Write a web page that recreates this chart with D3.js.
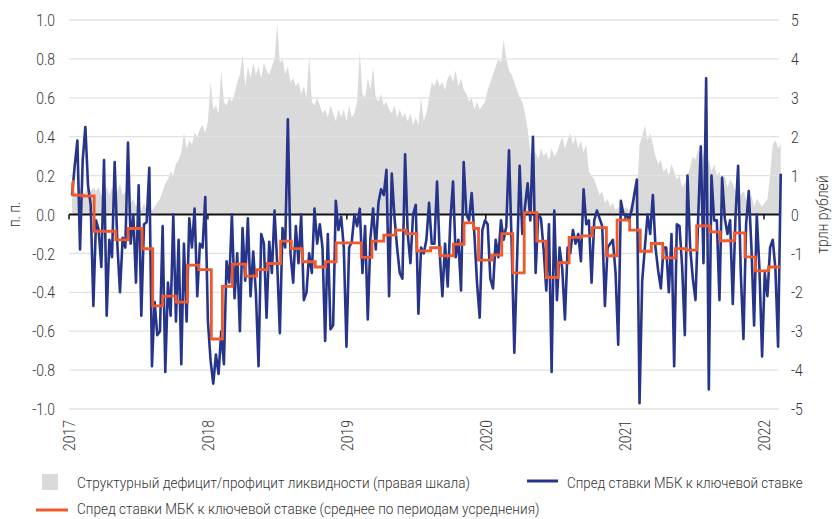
<!DOCTYPE html>
<html>
<head>
<meta charset="utf-8">
<script src="https://cdn.jsdelivr.net/npm/d3@7"></script>
<style>
  body { margin: 0; background: #fff; }
  svg text { font-family: Roboto, "Open Sans", sans-serif; font-weight: 300; fill: #333; }
  .tick-label { font-size: 17px; }
  .legend-text { font-size: 15.5px; }
  .legend-text.low { font-size: 15px; }
</style>
</head>
<body>
<div id="chart"></div>
<script>
/* ============================================================
   Спред ставки МБК к ключевой ставке и структурная ликвидность
   ============================================================ */

// weekly observations, first week starts 2017-01-09
const firstWeek = '2017-01-09';

// spread of interbank rate to key rate, p.p. (weekly reading)
const spread = [
   0.10,  0.25,  0.38, -0.18,  0.28,  0.45,  0.15,  0.05, -0.47, -0.03,
  -0.08, -0.27,  0.28, -0.52, -0.13, -0.22,  0.27, -0.15, -0.40, -0.12,
  -0.17,  0.37, -0.15,  0.00, -0.35,  0.15, -0.52, -0.05, -0.04,  0.24,
  -0.78, -0.45, -0.62, -0.60, -0.06, -0.81, -0.35, -0.52,  0.00, -0.55,
  -0.13, -0.77, -0.15, -0.55, -0.02, -0.17,  0.03, -0.42, -0.15, -0.17,
   0.09, -0.55, -0.75, -0.87, -0.72, -0.82, -0.60, -0.77, -0.24, -0.35,
   0.00, -0.43, -0.20, -0.60, -0.07, -0.34, -0.02, -0.42, -0.19, -0.40,
  -0.78, -0.10, -0.15, -0.53, -0.14, -0.30,  0.02, -0.25, -0.61, -0.07,
  -0.17,  0.49, -0.20, -0.35, -0.06, -0.25,  0.00, -0.44, -0.40, -0.20,
  -0.30,  0.03, -0.15, -0.05, -0.17, -0.65, -0.10, -0.59, -0.57,  0.07,
  -0.08, -0.01, -0.17, -0.68, -0.17, -0.14,  0.00, -0.06,  0.03, -0.30,
  -0.06, -0.54, -0.12,  0.03, -0.18,  0.06,  0.13,  0.10,  0.23, -0.42,
   0.21, -0.01, -0.17, -0.30, -0.33,  0.31, -0.10, -0.25,  0.00,  0.05,
  -0.51, -0.17, -0.20, -0.13,  0.06, -0.15, -0.15,  0.17, -0.20, -0.42,
  -0.15, -0.37, -0.03,  0.17, -0.22, -0.13, -0.39,  0.27,  0.00, -0.03,
   0.11, -0.10, -0.35, -0.53, -0.08, -0.03, -0.05, -0.33, -0.38, -0.13,
  -0.22, -0.03, -0.13, -0.06,  0.33, -0.15, -0.71, -0.25,  0.25, -0.10,
   0.04,  0.16, -0.03,  0.40, -0.30,  0.00, -0.02, -0.18, -0.39, -0.05,
  -0.81,  0.02, -0.44, -0.17, -0.28, -0.54, -0.17, -0.20, -0.08, -0.15,
  -0.10, -0.24,  0.13, -0.05, -0.03, -0.35, -0.03,  0.02, -0.02, -0.06,
  -0.47, -0.17, -0.15, -0.13, -0.30, -0.67,  0.07,  0.00,  0.00, -0.03,
   0.02,  0.10,  0.18, -0.97, -0.34, -0.17,  0.00, -0.10,  0.10, -0.17,
  -0.29, -0.38, -0.17, -0.17, -0.40, -0.10, -0.78, -0.05, -0.06, -0.27,
  -0.62,  0.20, -0.17, -0.33, -0.44, -0.02,  0.35, -0.25,  0.70, -0.90,
   0.20, -0.03, -0.03, -0.44,  0.19, -0.02, -0.10, -0.03, -0.46, -0.02,
   0.25, -0.30, -0.64, -0.05,  0.12, -0.17, -0.57,  0.00, -0.28, -0.73,
  -0.30, -0.42, -0.17, -0.13, -0.28, -0.68,  0.21
];

// structural liquidity deficit(-)/surplus(+), trn rubles (same weeks)
const liquidity = [
  0.4, 0.6, 0.5, 0.7, 0.5, 0.6, 0.7, 0.6, 0.7, 0.6,
  0.7, 0.5, 0.6, 0.7, 0.5, 0.7, 0.5, 0.6, 0.8, 0.5,
  0.6, 0.4, 0.3, 0.4, 0.2, 0.3, 0.1, 0.3, 0.1, 0.2,
  0.1, 0.2, 0.3, 0.4, 0.6, 0.8, 0.9, 1.1, 1.0, 1.3,
  1.4, 1.6, 2.1, 1.7, 1.9, 1.8, 2.1, 2.0, 2.2, 2.3,
  2.1, 2.4, 3.4, 2.7, 2.8, 2.6, 3.7, 2.9, 2.8, 3.0,
  2.9, 3.1, 3.4, 3.6, 4.1, 3.3, 3.8, 3.5, 3.9, 3.6,
  3.8, 3.5, 3.9, 3.7, 3.6, 3.8, 4.0, 4.9, 3.9, 4.0,
  3.6, 3.8, 3.4, 3.5, 3.3, 3.4, 3.1, 3.3, 3.0, 4.1,
  2.9, 2.8, 3.0, 2.8, 2.6, 2.7, 2.5, 2.8, 2.6, 2.4,
  2.7, 2.5, 2.7, 2.4, 2.8, 2.5, 2.6, 2.9, 4.2, 3.1,
  3.0, 3.5, 3.2, 3.8, 3.0, 2.9, 3.1, 2.8, 2.9, 2.7,
  2.6, 2.8, 2.5, 2.7, 2.5, 2.6, 2.4, 2.6, 2.3, 2.5,
  2.3, 3.0, 2.4, 2.6, 3.0, 3.4, 3.3, 3.5, 3.3, 3.4,
  3.2, 3.5, 3.6, 3.4, 3.7, 3.3, 3.5, 3.2, 3.1, 2.9,
  3.0, 2.7, 2.9, 2.7, 2.8, 2.9, 3.2, 3.4, 3.6, 3.8,
  4.0, 3.9, 4.5, 4.0, 3.7, 3.6, 3.4, 3.2, 3.0, 2.9,
  2.6, 2.2, 1.6, 1.5, 1.6, 1.4, 1.7, 1.5, 1.6, 1.4,
  1.7, 1.5, 1.6, 1.8, 2.0, 1.7, 1.9, 2.1, 1.8, 2.0,
  1.7, 1.9, 1.6, 1.8, 1.1, 1.0, 0.9, 0.7, 0.5, 0.6,
  0.3, 0.4, 0.2, 0.3, 0.1, 0.2, 0.1, 0.1, 0.2, 0.1,
  0.3, 0.5, 0.4, 1.8, 2.0, 2.3, 1.9, 2.1, 1.8, 1.5,
  1.3, 1.4, 1.1, 1.2, 1.0, 1.3, 1.1, 0.9, 1.0, 0.7,
  0.8, 1.0, 1.2, 1.5, 1.4, 1.7, 1.3, 1.6, 1.2, 1.4,
  1.1, 1.3, 1.0, 1.1, 0.8, 1.0, 0.7, 0.9, 0.8, 0.6,
  0.7, 0.5, 0.6, 0.4, 0.3, 0.5, 0.2, 0.4, 0.3, 0.2,
  0.3, 0.4, 1.0, 1.8, 1.9, 1.7, 1.8
];

// averaging periods: start date and mean spread, p.p.
const periodStart = [
  '2017-01-09', '2017-01-11', '2017-02-06', '2017-03-08', '2017-05-04', '2017-06-05',
  '2017-07-12', '2017-08-09', '2017-09-04', '2017-10-09', '2017-11-08', '2017-12-08',
  '2018-01-10', '2018-02-08', '2018-03-06', '2018-04-10', '2018-05-09', '2018-06-06',
  '2018-07-11', '2018-08-08', '2018-09-06', '2018-10-10', '2018-11-06', '2018-12-04',
  '2019-02-08', '2019-03-08', '2019-04-08', '2019-05-08', '2019-06-06', '2019-07-04',
  '2019-08-09', '2019-09-04', '2019-10-08', '2019-11-05', '2019-11-30', '2019-12-13',
  '2020-01-17', '2020-02-12', '2020-03-12', '2020-04-11', '2020-05-14', '2020-06-08',
  '2020-07-09', '2020-08-07', '2020-09-08', '2020-10-07', '2020-11-13', '2020-12-11',
  '2021-01-13', '2021-02-10', '2021-03-11', '2021-04-10', '2021-05-13', '2021-06-10',
  '2021-07-08', '2021-08-12', '2021-09-08', '2021-10-15', '2021-11-12', '2021-12-09',
  '2022-01-13'
];
const periodMean = [
   0.17,  0.10,  0.095, -0.086, -0.13, -0.072,
  -0.176, -0.47, -0.42, -0.45, -0.26, -0.283,
  -0.64, -0.37, -0.255, -0.317, -0.283, -0.252,
  -0.137, -0.175, -0.243, -0.27, -0.243, -0.146,
  -0.22, -0.137, -0.106, -0.08, -0.098, -0.187,
  -0.171, -0.212, -0.153, -0.043, -0.072, -0.235,
  -0.209, -0.098, -0.30, 0.01, -0.137, -0.324,
  -0.248, -0.118, -0.11, -0.067, -0.212, -0.029,
  -0.08, -0.189, -0.149, -0.223, -0.175, -0.183,
  -0.058, -0.089, -0.135, -0.094, -0.218, -0.29,
  -0.27
];
const lastDay = '2022-02-12';

const leftTicks = [1.0, 0.8, 0.6, 0.4, 0.2, 0.0, -0.2, -0.4, -0.6, -0.8, -1.0];
const rightTicks = [5, 4, 3, 2, 1, 0, -1, -2, -3, -4, -5];
const yearTicks = ['2017', '2018', '2019', '2020', '2021', '2022'];

const COLORS = { spread: '#26358a', mean: '#ee5a2a', liquidity: '#dadada', grid: '#e2e2e2', axis: '#111' };

// text squeezed horizontally (the original uses a narrow face)
function label(parent, x, y, str, cls, anchor, opt = {}) {
    const g = parent.append('g').attr('transform', `translate(${x},${y})` + (opt.rotate ? ` rotate(${opt.rotate})` : ''));
    const t = g.append('text').attr('class', cls).attr('dy', '0.36em').attr('text-anchor', anchor).text(str);
    const w = t.node().getComputedTextLength();
    const s = opt.width ? opt.width / w : (opt.k || 0.82);
    t.attr('transform', `scale(${s},1)`);
    return t;
}

function drawChart() {
    const W = 832, H = 519;
    const parse = d3.timeParse('%Y-%m-%d');

    const svg = d3.select('#chart').append('svg').attr('width', W).attr('height', H);

    const x = d3.scaleTime().domain([new Date(2017, 0, 1), new Date(2022, 0, 1)]).range([69, 764]);
    const yL = d3.scaleLinear().domain([-1, 1]).range([409, 20]);
    const yR = d3.scaleLinear().domain([-5, 5]).range([409, 20]);
    const x0 = 69, x1 = 779;

    const start = parse(firstWeek);
    const weeks = spread.map((_, i) => d3.timeWeek.offset(start, i));

    // Liquidity area (right scale)
    const area = d3.area().x((d, i) => x(weeks[i])).y0(yR(0)).y1(d => yR(d));
    svg.append('path').datum(liquidity).attr('d', area).attr('fill', COLORS.liquidity);

    // Grid
    leftTicks.forEach(t => {
        if (t === 0) return;
        svg.append('line').attr('x1', x0).attr('x2', x1).attr('y1', yL(t)).attr('y2', yL(t))
            .attr('stroke', COLORS.grid).attr('stroke-width', 1.3);
    });

    // Axis labels
    leftTicks.forEach(t => label(svg, 55, yL(t), d3.format('.1f')(t).replace('−', '-'), 'tick-label', 'end'));
    rightTicks.forEach(t => label(svg, 791, yR(t), String(t), 'tick-label', 'start'));

    // Zero line and year ticks
    svg.append('line').attr('x1', x0).attr('x2', x1).attr('y1', yL(0)).attr('y2', yL(0))
        .attr('stroke', COLORS.axis).attr('stroke-width', 2);
    yearTicks.forEach(yr => {
        const xx = x(parse(yr + '-01-01'));
        svg.append('line').attr('x1', xx).attr('x2', xx).attr('y1', yL(0)).attr('y2', yL(0) + 5)
            .attr('stroke', COLORS.axis).attr('stroke-width', 1.5);
        label(svg, xx, 420, yr, 'tick-label', 'end', { rotate: -90 });
    });

    // Axis titles
    label(svg, 14, yL(0), 'п. п.', 'tick-label', 'middle', { rotate: -90 });
    label(svg, 822, yL(0), 'трлн рублей', 'tick-label', 'middle', { rotate: -90 });

    // Spread line
    const line = d3.line().x((d, i) => x(weeks[i])).y(d => yL(d));
    svg.append('path').datum(spread).attr('d', line).attr('fill', 'none')
        .attr('stroke', COLORS.spread).attr('stroke-width', 2.6).attr('stroke-linejoin', 'round');

    // Averaging-period mean (step)
    const steps = periodStart.map((d, i) => ({ date: parse(d), value: periodMean[i] }));
    steps.push({ date: parse(lastDay), value: periodMean[periodMean.length - 1] });
    const stepLine = d3.line().curve(d3.curveStepAfter).x(d => x(d.date)).y(d => yL(d.value));
    svg.append('path').datum(steps).attr('d', stepLine).attr('fill', 'none')
        .attr('stroke', COLORS.mean).attr('stroke-width', 2.8);

    // Legend
    svg.append('rect').attr('x', 42).attr('y', 474).attr('width', 16).attr('height', 16).attr('fill', COLORS.liquidity);
    label(svg, 77, 482, 'Структурный дефицит/профицит ликвидности (правая шкала)', 'legend-text', 'start', { width: 393 });
    svg.append('line').attr('x1', 527).attr('x2', 558).attr('y1', 481).attr('y2', 481)
        .attr('stroke', COLORS.spread).attr('stroke-width', 3);
    label(svg, 567, 482, 'Спред ставки МБК к ключевой ставке', 'legend-text', 'start', { width: 236 });
    svg.append('line').attr('x1', 36).attr('x2', 68).attr('y1', 510).attr('y2', 510)
        .attr('stroke', COLORS.mean).attr('stroke-width', 3);
    label(svg, 77, 508.5, 'Спред ставки МБК к ключевой ставке (среднее по периодам усреднения)', 'legend-text low', 'start', { width: 463 });
}

drawChart();
</script>
</body>
</html>
